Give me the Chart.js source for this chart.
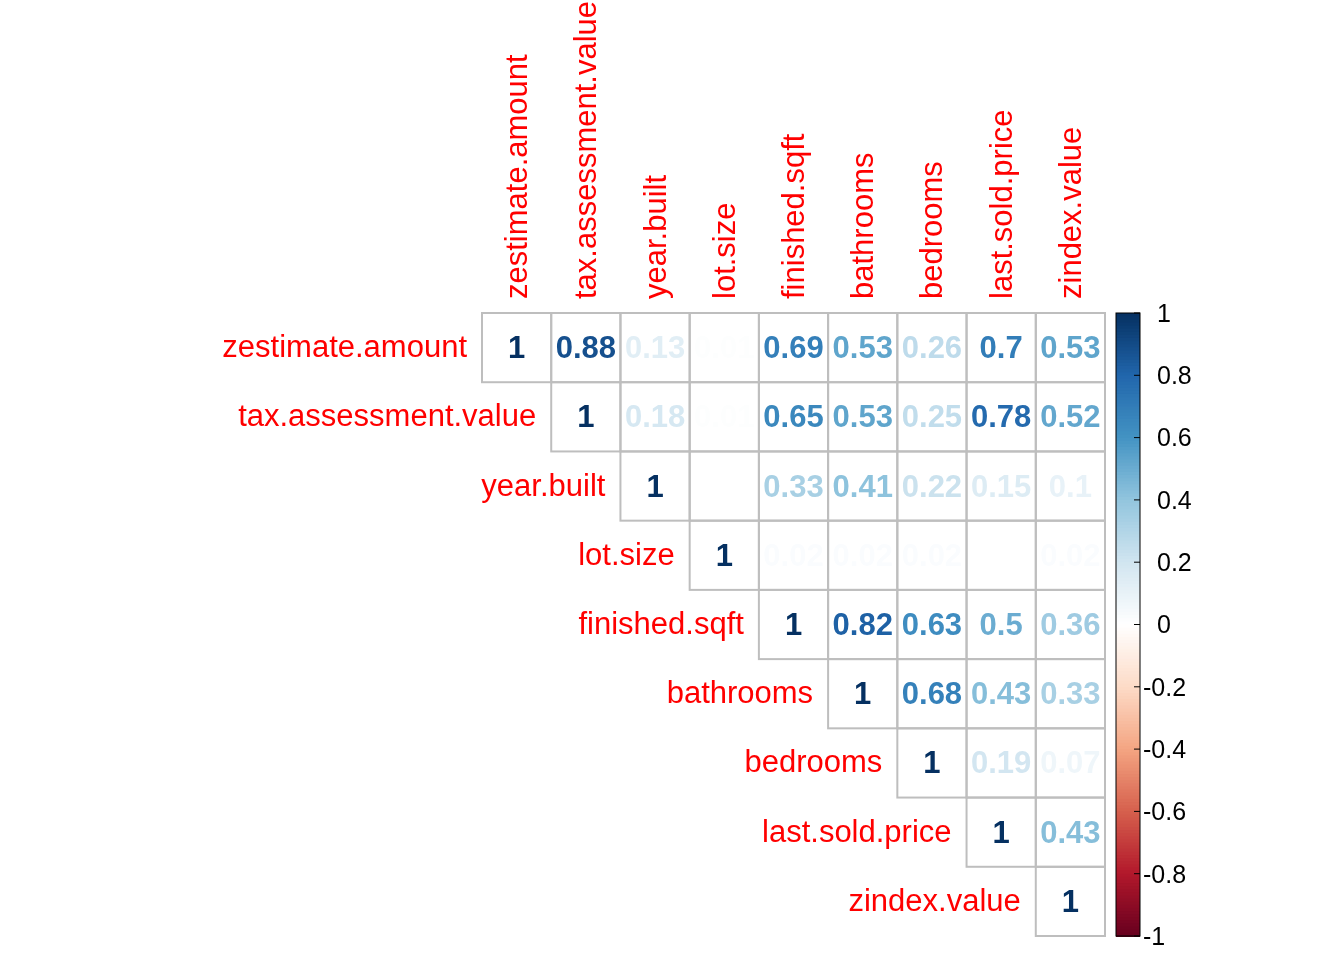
<!DOCTYPE html>
<html><head><meta charset="utf-8">
<script src="https://cdn.jsdelivr.net/npm/chart.js@4/dist/chart.umd.min.js"></script>
<style>body{margin:0;background:#fff}</style></head>
<body><canvas id="c" width="1344" height="960"></canvas>
<script>
var variaveis = ["zestimate.amount","tax.assessment.value","year.built","lot.size","finished.sqft","bathrooms","bedrooms","last.sold.price","zindex.value"];
var linha1 = [1,0.88,0.13,0.01,0.69,0.53,0.26,0.7,0.53];
var linha2 = [1,0.18,0.01,0.65,0.53,0.25,0.78,0.52];
var linha3 = [1,0,0.33,0.41,0.22,0.15,0.1];
var linha4 = [1,0.02,0.02,0.02,0,0.02];
var linha5 = [1,0.82,0.63,0.5,0.36];
var linha6 = [1,0.68,0.43,0.33];
var linha7 = [1,0.19,0.07];
var linha8 = [1,0.43];
var linha9 = [1];
var linhas = [linha1,linha2,linha3,linha4,linha5,linha6,linha7,linha8,linha9];
var ticksBarra = ["1","0.8","0.6","0.4","0.2","0","-0.2","-0.4","-0.6","-0.8","-1"];

var paleta = ["#67001F","#B2182B","#D6604D","#F4A582","#FDDBC7","#FFFFFF","#D1E5F0","#92C5DE","#4393C3","#2166AC","#053061"];
function hex(h){return [parseInt(h.substr(1,2),16),parseInt(h.substr(3,2),16),parseInt(h.substr(5,2),16)];}
function cor(v){
	var t=(v+1)/2*10, i=Math.min(9,Math.floor(t)), f=t-i;
	var a=hex(paleta[i]), b=hex(paleta[i+1]);
	return "rgb("+[0,1,2].map(function(k){return Math.round(a[k]+(b[k]-a[k])*f);}).join(",")+")";
}

var pontos = [];
for (var i = 0; i < linhas.length; i++) {
	for (var j = 0; j < linhas[i].length; j++) {
		pontos.push({x: i + j + 0.5, y: i + 0.5, v: linhas[i][j]});
	}
}

var desenho = {
	id: "corrplot",
	afterDatasetsDraw: function(chart){
		var ctx = chart.ctx, sx = chart.scales.x, sy = chart.scales.y;
		var w = sx.getPixelForValue(1) - sx.getPixelForValue(0);
		ctx.save();
		// grade
		ctx.strokeStyle = "#bebebe"; ctx.lineWidth = 2;
		pontos.forEach(function(p){
			var x0 = sx.getPixelForValue(p.x-0.5), y0 = sy.getPixelForValue(p.y-0.5);
			ctx.strokeRect(x0, y0, w, w);
		});
		ctx.textAlign = "center"; ctx.textBaseline = "middle";
		ctx.font = "bold 31px Arial, 'Liberation Sans'";
		pontos.forEach(function(p){
			ctx.fillStyle = cor(p.v);
			ctx.fillText(String(p.v), sx.getPixelForValue(p.x), sy.getPixelForValue(p.y)+2);
		});
		// rotulos
		ctx.font = "31px Arial, 'Liberation Sans'"; ctx.fillStyle = "#ff0000";
		ctx.textAlign = "right";
		variaveis.forEach(function(n, i){
			ctx.fillText(n, sx.getPixelForValue(i) - 15, sy.getPixelForValue(i+0.5) + 1);
		});
		variaveis.forEach(function(n, i){
			ctx.save();
			ctx.translate(sx.getPixelForValue(i+0.5) + 2, sy.getPixelForValue(0) - 14);
			ctx.rotate(-Math.PI/2); ctx.textAlign = "left";
			ctx.fillText(n, 0, 0);
			ctx.restore();
		});
		// barra de cores
		var bx = sx.getPixelForValue(9) + 11, top = sy.getPixelForValue(0), bot = sy.getPixelForValue(9);
		for (var k = 0; k < 200; k++) {
			var v = 1 - (k + 0.5) / 100;
			ctx.fillStyle = cor(v);
			ctx.fillRect(bx, top + (bot-top)*k/200, 24, (bot-top)/200 + 1);
		}
		ctx.strokeStyle = "#000"; ctx.lineWidth = 1;
		ctx.strokeRect(bx, top, 24, bot-top);
		ctx.font = "25px Arial, 'Liberation Sans'"; ctx.fillStyle = "#000"; ctx.textAlign = "left";
		ticksBarra.forEach(function(t, k){
			var y = top + (bot-top)*k/10;
			ctx.beginPath(); ctx.moveTo(bx+18, y); ctx.lineTo(bx+24, y); ctx.stroke();
			ctx.fillText(t, t.charAt(0) === "-" ? bx + 27 : bx + 41, y + 2);
		});
		ctx.restore();
	}
};

new Chart(document.getElementById("c"), {
	type: "scatter",
	data: {datasets: [{data: pontos, pointRadius: 0}]},
	options: {
		responsive: false, animation: false,
		layout: {padding: {left: 482, right: 239, top: 313, bottom: 24}},
		plugins: {legend: {display: false}, tooltip: {enabled: false}},
		scales: {
			x: {type: "linear", min: 0, max: 9, display: false},
			y: {type: "linear", min: 0, max: 9, reverse: true, display: false}
		}
	},
	plugins: [desenho]
});
</script></body></html>
